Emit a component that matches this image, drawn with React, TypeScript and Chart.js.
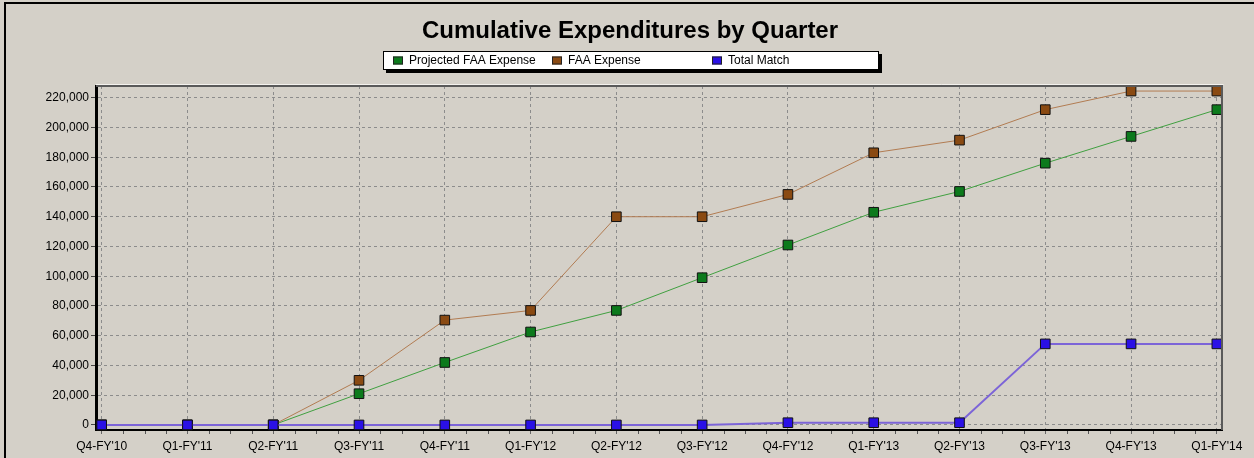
import React, { useEffect, useRef } from 'react';
import { Chart, registerables } from 'chart.js';

Chart.register(...registerables);

const categories = [
  "Q4-FY'10", "Q1-FY'11", "Q2-FY'11", "Q3-FY'11", "Q4-FY'11", "Q1-FY'12", "Q2-FY'12",
  "Q3-FY'12", "Q4-FY'12", "Q1-FY'13", "Q2-FY'13", "Q3-FY'13", "Q4-FY'13", "Q1-FY'14",
];
const projectedFAA = [0, 0, 0, 21000, 42000, 62500, 77000, 99000, 121000, 143000, 157000, 176000, 194000, 212000];
const faaExpense = [0, 0, 0, 30000, 70500, 77000, 140000, 140000, 155000, 183000, 191500, 212000, 224500, 224500];
const totalMatch = [0, 0, 0, 0, 0, 0, 0, 0, 1500, 1500, 1500, 54500, 54500, 54500];
const yTicks = [0, 20000, 40000, 60000, 80000, 100000, 120000, 140000, 160000, 180000, 200000, 220000];

const seriesNames = ['Projected FAA Expense', 'FAA Expense', 'Total Match'];
const markerColors = ['#0c7a1c', '#8a4a12', '#2a10e6'];
const lineColors = ['#40a040', '#b27c52', '#7c64d8'];

const FONT = "'Liberation Sans', Arial, sans-serif";
const W = 1254;
const H = 458;

const decor = {
  id: 'decor',
  beforeDraw(chart: any) {
    const ctx = chart.ctx;
    ctx.save();
    ctx.fillStyle = '#d4d0c8';
    ctx.fillRect(0, 0, chart.width, chart.height);
    ctx.restore();
  },
  afterDraw(chart: any) {
    const ctx = chart.ctx;
    const area = chart.chartArea;
    const xs = chart.scales.x;
    ctx.save();
    // outer frame
    ctx.strokeStyle = '#000';
    ctx.lineWidth = 2;
    ctx.beginPath();
    ctx.moveTo(5, H);
    ctx.lineTo(5, 3);
    ctx.lineTo(W, 3);
    ctx.stroke();

    // plot top/right edge
    ctx.strokeStyle = '#5a5a5a';
    ctx.lineWidth = 2;
    ctx.beginPath();
    ctx.moveTo(area.left, area.top);
    ctx.lineTo(area.right, area.top);
    ctx.lineTo(area.right, area.bottom);
    ctx.stroke();
    ctx.strokeStyle = '#f4f2ee';
    ctx.lineWidth = 1;
    ctx.beginPath();
    ctx.moveTo(area.left, area.top - 1.5);
    ctx.lineTo(area.right + 1.5, area.top - 1.5);
    ctx.stroke();

    // minor ticks on x axis
    ctx.strokeStyle = '#555';
    ctx.lineWidth = 1;
    ctx.beginPath();
    for (let i = 0; i < categories.length - 1; i++) {
      for (let k = 1; k < 4; k++) {
        const px = Math.round(xs.getPixelForValue(i + k / 4)) + 0.5;
        ctx.moveTo(px, area.bottom + 1);
        ctx.lineTo(px, area.bottom + 4);
      }
    }
    ctx.stroke();

    // title
    ctx.fillStyle = '#000';
    ctx.font = `bold 24px ${FONT}`;
    ctx.textAlign = 'center';
    ctx.textBaseline = 'alphabetic';
    ctx.fillText('Cumulative Expenditures by Quarter', 630, 37.5);

    // legend
    const lx = 383, ly = 51, lw = 496, lh = 19;
    ctx.fillStyle = '#000';
    ctx.fillRect(lx + 3, ly + 3, lw, lh);
    ctx.fillStyle = '#fff';
    ctx.fillRect(lx, ly, lw, lh);
    ctx.strokeStyle = '#000';
    ctx.lineWidth = 1;
    ctx.strokeRect(lx + 0.5, ly + 0.5, lw - 1, lh - 1);
    const itemX = [393, 552, 712];
    ctx.font = `12px ${FONT}`;
    ctx.textAlign = 'left';
    ctx.textBaseline = 'middle';
    for (let i = 0; i < seriesNames.length; i++) {
      ctx.fillStyle = markerColors[i];
      ctx.fillRect(itemX[i], 56.5, 10, 8);
      ctx.strokeStyle = '#222';
      ctx.strokeRect(itemX[i] + 0.5, 57, 9, 7);
      ctx.fillStyle = '#000';
      ctx.fillText(seriesNames[i], itemX[i] + 16, 61);
    }
    ctx.restore();
  },
};

export default function App() {
  const ref = useRef<HTMLCanvasElement | null>(null);

  useEffect(() => {
    if (!ref.current) return;
    Chart.defaults.font.family = FONT;
    Chart.defaults.font.size = 12;
    Chart.defaults.color = '#000';

    const seriesValues = [projectedFAA, faaExpense, totalMatch];
    const orders = [2, 1, 0];
    const widths = [1, 1, 2];
    const datasets = seriesValues.map((vals, s) => ({
      label: seriesNames[s],
      data: categories.map((_, i) => ({ x: i, y: vals[i] })),
      borderColor: lineColors[s],
      backgroundColor: markerColors[s],
      borderWidth: widths[s],
      pointStyle: 'rect',
      pointRadius: 6.8,
      pointHoverRadius: 6.8,
      pointBackgroundColor: markerColors[s],
      pointBorderColor: '#111',
      pointBorderWidth: 1,
      tension: 0,
      fill: false,
      order: orders[s],
      clip: false,
    }));

    const chart = new Chart(ref.current, {
      type: 'line',
      data: { datasets } as any,
      plugins: [decor],
      options: {
        animation: false,
        responsive: false,
        maintainAspectRatio: false,
        layout: { padding: { left: 0, top: 86, right: 32, bottom: 0 } },
        plugins: {
          legend: { display: false },
          title: { display: false },
          tooltip: { enabled: false },
        },
        scales: {
          x: {
            type: 'linear',
            min: -0.066,
            max: 13.06,
            afterBuildTicks: (scale: any) => {
              scale.ticks = categories.map((_, i) => ({ value: i }));
            },
            afterFit: (scale: any) => {
              scale.height = 28;
            },
            ticks: {
              autoSkip: false,
              maxRotation: 0,
              padding: 5,
              font: { size: 12, family: FONT },
              color: '#000',
              callback: (v: any) => categories[v] ?? '',
            },
            grid: {
              color: '#8c8c8c',
              lineWidth: 1,
              drawTicks: true,
              tickLength: 4,
              tickColor: '#666',
              tickBorderDash: [],
            },
            border: { display: true, color: '#000', width: 2, dash: [3, 3] },
          },
          y: {
            type: 'linear',
            min: -3400,
            max: 227900,
            afterBuildTicks: (scale: any) => {
              scale.ticks = yTicks.map((v) => ({ value: v }));
            },
            afterFit: (scale: any) => {
              scale.width = 96;
            },
            ticks: {
              padding: 2,
              font: { size: 12, family: FONT },
              color: '#000',
              callback: (v: any) => Number(v).toLocaleString('en-US'),
            },
            grid: {
              color: '#8c8c8c',
              lineWidth: 1,
              drawTicks: true,
              tickLength: 5,
              tickColor: '#444',
              tickBorderDash: [],
            },
            border: { display: true, color: '#000', width: 3, dash: [3, 3] },
          },
        },
      } as any,
    });
    return () => chart.destroy();
  }, []);

  return (
    <div style={{ position: 'fixed', left: 0, top: 0, width: W, height: H, background: '#d4d0c8' }}>
      <canvas ref={ref} width={W} height={H} style={{ display: 'block', width: W, height: H }} />
    </div>
  );
}
